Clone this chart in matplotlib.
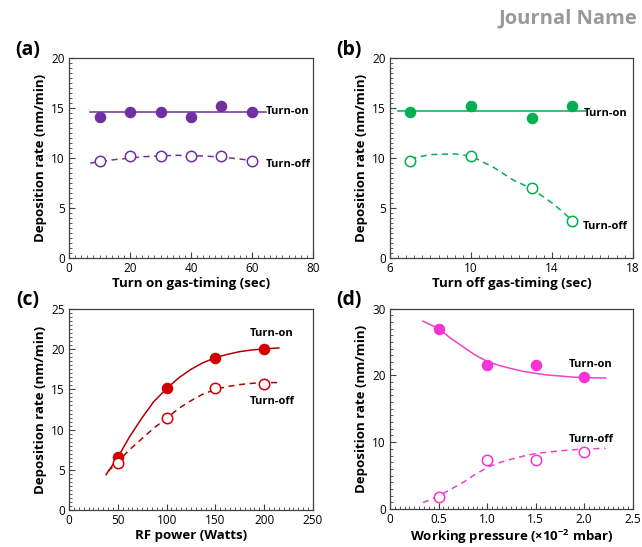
import matplotlib
matplotlib.use("Agg")
import matplotlib.pyplot as plt
from matplotlib.ticker import AutoMinorLocator, FixedLocator, MultipleLocator

plt.rcParams["font.family"] = ["Open Sans", "DejaVu Sans"]

# ---- (a) turn on gas-timing ----
a_x = [10, 20, 30, 40, 50, 60]
a_on = [14.1, 14.6, 14.6, 14.1, 15.2, 14.6]
a_off = [9.7, 10.2, 10.2, 10.2, 10.2, 9.7]
a_on_fit_x = [7, 64.5]
a_on_fit_y = [14.65, 14.65]
a_off_fit_x = [7, 15, 25, 35, 45, 55, 61]
a_off_fit_y = [9.5, 9.85, 10.15, 10.28, 10.2, 9.95, 9.7]

# ---- (b) turn off gas-timing ----
b_x = [7, 10, 13, 15]
b_on = [14.6, 15.2, 14.0, 15.2]
b_off = [9.7, 10.2, 7.0, 3.7]
b_on_fit_x = [6.4, 15.7]
b_on_fit_y = [14.75, 14.75]
b_off_fit_x = [7.0, 8.0, 9.2, 10.0, 11.1, 12.1, 13.0, 14.1, 15.05, 15.3]
b_off_fit_y = [9.95, 10.35, 10.42, 10.2, 9.1, 7.8, 6.95, 5.4, 3.7, 3.2]
b_xticks = [6, 10, 14, 18]

# ---- (c) RF power ----
c_x = [50, 100, 150, 200]
c_on = [6.55, 15.15, 18.95, 20.05]
c_off = [5.9, 11.4, 15.15, 15.65]
c_on_fit_x = [38, 50, 62, 75, 87, 100, 112, 125, 137, 150, 162, 175, 187, 200, 215]
c_on_fit_y = [4.4, 6.55, 9.1, 11.5, 13.5, 15.1, 16.4, 17.5, 18.3, 18.95, 19.35, 19.7, 19.9, 20.05, 20.15]
c_off_fit_x = [40, 50, 62, 75, 87, 100, 112, 125, 137, 150, 162, 175, 187, 200, 215]
c_off_fit_y = [4.8, 6.0, 7.5, 8.9, 10.2, 11.4, 12.6, 13.6, 14.4, 15.0, 15.35, 15.6, 15.75, 15.85, 15.85]

# ---- (d) working pressure ----
d_x = [0.5, 1.0, 1.5, 2.0]
d_on = [27.0, 21.6, 21.6, 19.8]
d_off = [1.8, 7.3, 7.3, 8.5]
d_on_fit_x = [0.34, 0.5, 0.62, 0.75, 0.87, 1.0, 1.12, 1.25, 1.37, 1.5, 1.62, 1.75, 1.87, 2.0, 2.22]
d_on_fit_y = [28.1, 27.0, 25.6, 24.3, 23.1, 22.1, 21.5, 21.0, 20.6, 20.3, 20.05, 19.9, 19.75, 19.65, 19.6]
d_off_fit_x = [0.34, 0.5, 0.62, 0.75, 0.87, 1.0, 1.12, 1.25, 1.37, 1.5, 1.62, 1.75, 1.87, 2.0, 2.22]
d_off_fit_y = [0.95, 1.9, 2.9, 3.95, 5.1, 6.2, 6.9, 7.45, 7.9, 8.3, 8.5, 8.7, 8.85, 8.95, 9.1]

panels = [
    dict(tag="(a)", tagpos=(0.043, 0.909), rect=[0.1075, 0.528, 0.38, 0.366],
         color="#7030a0", line="#7030a0",
         x=a_x, on=a_on, off=a_off, on_fx=a_on_fit_x, on_fy=a_on_fit_y,
         off_fx=a_off_fit_x, off_fy=a_off_fit_y,
         xlim=(0, 80), xticks=None, xstep=20, ylim=(0, 20), ystep=5,
         xlabel="Turn on gas-timing (sec)",
         on_lab=(64.6, 14.65, "left"), off_lab=(64.6, 9.35, "left")),
    dict(tag="(b)", tagpos=(0.543, 0.909), rect=[0.6075, 0.528, 0.378, 0.366],
         color="#00b050", line="#00b050",
         x=b_x, on=b_on, off=b_off, on_fx=b_on_fit_x, on_fy=b_on_fit_y,
         off_fx=b_off_fit_x, off_fy=b_off_fit_y,
         xlim=(6, 18), xticks=b_xticks, xstep=4, ylim=(0, 20), ystep=5,
         xlabel="Turn off gas-timing (sec)",
         on_lab=(15.6, 14.5, "left"), off_lab=(15.55, 3.2, "left")),
    dict(tag="(c)", tagpos=(0.043, 0.452), rect=[0.1075, 0.0676, 0.38, 0.3675],
         color="#d00000", line="#b00000",
         x=c_x, on=c_on, off=c_off, on_fx=c_on_fit_x, on_fy=c_on_fit_y,
         off_fx=c_off_fit_x, off_fy=c_off_fit_y,
         xlim=(0, 250), xticks=None, xstep=50, ylim=(0, 25), ystep=5,
         xlabel="RF power (Watts)",
         on_lab=(208, 21.9, "center"), off_lab=(208, 13.55, "center")),
    dict(tag="(d)", tagpos=(0.543, 0.452), rect=[0.6075, 0.0695, 0.378, 0.3665],
         color="#f535d2", line="#f040c8",
         x=d_x, on=d_on, off=d_off, on_fx=d_on_fit_x, on_fy=d_on_fit_y,
         off_fx=d_off_fit_x, off_fy=d_off_fit_y,
         xlim=(0, 2.5), xticks=None, xstep=0.5, ylim=(0, 30), ystep=10,
         xlabel="Working pressure (\u00d710$^{\\mathregular{-2}}$ mbar)",
         on_lab=(2.07, 21.6, "center"), off_lab=(2.07, 10.45, "center")),
]

fig = plt.figure(figsize=(6.42, 5.47), dpi=100)

for p in panels:
    ax = fig.add_axes(p["rect"])
    c = p["color"]
    ax.plot(p["on_fx"], p["on_fy"], "-", color=p["line"], lw=1.1, zorder=2)
    ax.plot(p["off_fx"], p["off_fy"], "--", color=p["line"], lw=1.1, dashes=(4, 3), zorder=2)
    ax.plot(p["x"], p["on"], "o", color=c, ms=7.3, mec=c, ls="none", zorder=3)
    ax.plot(p["x"], p["off"], "o", mfc="white", mec=c, mew=1.1, ms=7.5, ls="none", zorder=3)

    ax.set_xlim(*p["xlim"])
    ax.set_ylim(*p["ylim"])
    if p["xticks"] is not None:
        ax.xaxis.set_major_locator(FixedLocator(p["xticks"]))
        ax.xaxis.set_minor_locator(MultipleLocator(p["xstep"] / 10))
    else:
        ax.xaxis.set_major_locator(MultipleLocator(p["xstep"]))
        ax.xaxis.set_minor_locator(AutoMinorLocator(10))
    ax.yaxis.set_major_locator(MultipleLocator(p["ystep"]))
    ax.yaxis.set_minor_locator(AutoMinorLocator(10))
    if p["tag"] == "(d)":
        ax.xaxis.set_major_formatter(plt.FuncFormatter(lambda v, _: "0" if v == 0 else f"{v:.1f}"))
    ax.tick_params(which="both", direction="in", top=False, right=False,
                   colors="#404040", labelcolor="black", labelsize=8.5)
    ax.tick_params(which="major", length=4, width=0.8, pad=3)
    ax.tick_params(which="minor", length=2, width=0.6)
    for s in ax.spines.values():
        s.set_color("#404040")
        s.set_linewidth(0.9)

    ax.set_xlabel(p["xlabel"], fontsize=9.5, fontweight="bold", labelpad=1)
    ax.set_ylabel("Deposition rate (nm/min)", fontsize=9.5, fontweight="bold", labelpad=3)

    lx, ly, ha = p["on_lab"]
    ax.text(lx, ly, "Turn-on", fontsize=8, fontweight="bold", ha=ha, va="center")
    lx, ly, ha = p["off_lab"]
    ax.text(lx, ly, "Turn-off", fontsize=8, fontweight="bold", ha=ha, va="center")

    fig.text(p["tagpos"][0], p["tagpos"][1], p["tag"], fontsize=14,
             fontweight="bold", ha="center", va="center")

fig.text(0.992, 0.966, "Journal Name", fontsize=14.5, fontweight="bold",
         color="#999999", ha="right", va="center")

fig.savefig("out.png", dpi=100)
